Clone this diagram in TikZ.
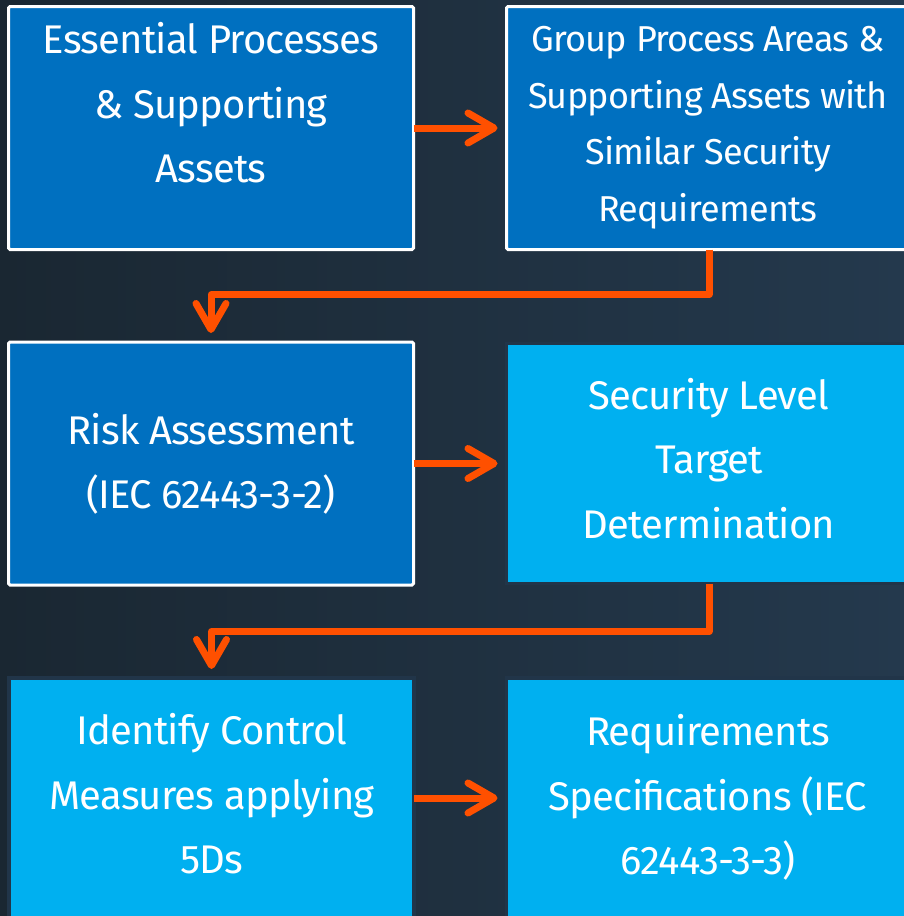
\documentclass[tikz,border=0pt]{standalone}
\usepackage{fontspec}
\setmainfont[LetterSpace=-2]{Fira Sans}
\usetikzlibrary{arrows.meta}

\definecolor{bgL}{HTML}{1A2732}
\definecolor{bgR}{HTML}{24394D}
\definecolor{darkbox}{HTML}{0070C0}
\definecolor{lightbox}{HTML}{00B0F0}
\definecolor{flow}{HTML}{FF5000}
\definecolor{rim}{HTML}{213549}

\tikzset{
  darkstep/.style={draw=white, line width=3pt, fill=darkbox, rounded corners=1.5pt,
    minimum width=405pt, minimum height=243pt, inner sep=0pt, outer sep=0pt},
  lightstep/.style={draw=rim, line width=3.5pt, fill=lightbox,
    minimum width=405pt, minimum height=240pt, inner sep=0pt, outer sep=0pt},
  bigtext/.style={text=white, align=center, inner sep=0pt,
    font=\fontsize{40}{64.5}\selectfont},
  smalltext/.style={text=white, align=center, inner sep=0pt,
    font=\fontsize{36}{56.5}\selectfont},
  flowline/.style={draw=flow, line width=7pt, line join=round,
    -{Straight Barb[length=26pt, width=30pt, round]}, shorten >=9pt},
}

\begin{document}
\begin{tikzpicture}[x=1pt, y=-1pt]
  % canvas
  \useasboundingbox (0,0) rectangle (904,916);
  \fill[left color=bgL, right color=bgR] (0,0) rectangle (904,916);

  % boxes
  \node[darkstep]  (essential) at (211,128)   {};
  \node[darkstep]  (group)     at (709,128)   {};
  \node[darkstep]  (risk)      at (211,463.5) {};
  \node[lightstep] (target)    at (709,463.5) {};
  \node[lightstep] (identify)  at (211.5,798) {};
  \node[lightstep] (reqspec)   at (709,798)   {};

  % labels
  \node[bigtext]   (t1) at (211,102.7) {Essential Processes\\ \& Supporting\\ Assets};
  \node[smalltext] (t2) at (708,127.5) {Group Process Areas \&\\ Supporting Assets with\\ Similar Security\\ Requirements};
  \node[bigtext]   (t3) at (211,463.7) {Risk Assessment\\ (IEC 62443-3-2)};
  \node[bigtext]   (t4) at (709,458.2) {Security Level\\ Target\\ Determination};
  \node[bigtext]   (t5) at (212,793.7) {Identify Control\\ Measures applying\\ 5Ds};
  \node[bigtext]   (t6) at (708,797.5) {Requirements\\ Specifications (IEC\\ 62443-3-3)};

  % flow
  \draw[flowline] (essential.east) -- (group.west);
  \draw[flowline] (risk.east) -- (target.west);
  \draw[flowline] (identify.east) -- (reqspec.west);
  \draw[flowline] (group.south) -- ++(0,45) -| (risk.north);
  \draw[flowline] (target.south) -- ++(0,48) -| (identify.north);
\end{tikzpicture}
\end{document}
